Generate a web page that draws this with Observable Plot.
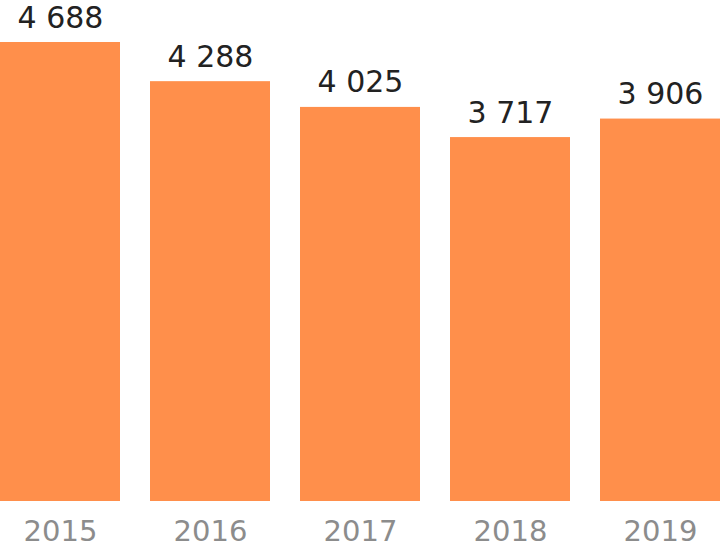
<!DOCTYPE html>
<html>
<head>
<meta charset="utf-8">
<script src="https://cdn.jsdelivr.net/npm/d3@7"></script>
<script src="https://cdn.jsdelivr.net/npm/@observablehq/plot@0.6"></script>
<style>
  html, body { margin: 0; padding: 0; background: #fff; }
  #chart { width: 720px; height: 549px; }
</style>
</head>
<body>
<div id="chart"></div>
<script>
// values
var years = ["2015", "2016", "2017", "2018", "2019"];
var counts = [4688, 4288, 4025, 3717, 3906];

var barColor = "#ff8f4b";

var data = years.map(function(y, i) { return {year: y, value: counts[i]}; });

// "4 688" style grouping
var fmt = d3.formatLocale({decimal: ",", thousands: " ", grouping: [3], currency: ["", ""]}).format(",d");

var plot = Plot.plot({
  width: 720,
  height: 549,
  marginTop: 0,
  marginRight: 0,
  marginBottom: 48,
  marginLeft: 0,
  style: {fontFamily: "'DejaVu Sans', sans-serif", background: "#fff"},
  x: {domain: years, paddingInner: 0.2, paddingOuter: 0},
  y: {domain: [0, 4688], range: [501, 42], axis: null},
  marks: [
    Plot.barY(data, {x: "year", y: "value", fill: barColor}),
    Plot.text(data, {
      x: "year", y: "value", text: function(d) { return fmt(d.value); },
      lineAnchor: "bottom", dy: -15, fontSize: 30, fill: "#222"
    }),
    Plot.axisX({tickSize: 0, tickPadding: 19, fontSize: 29, fill: "#8c8c8c", label: null})
  ]
});

document.getElementById("chart").appendChild(plot);
</script>
</body>
</html>
